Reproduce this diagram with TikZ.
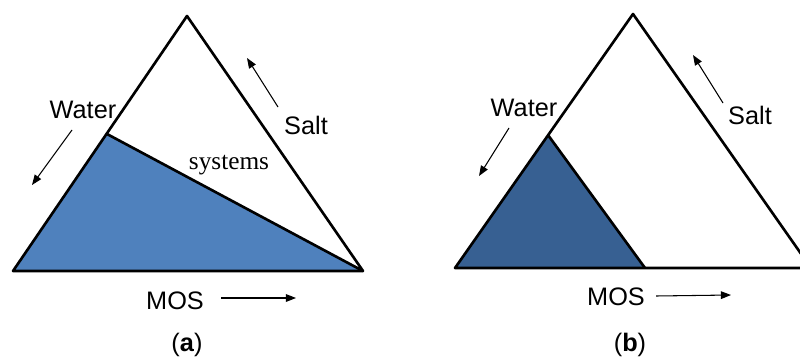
\documentclass[tikz,border=0pt]{standalone}
\usepackage{fontspec}
\setmainfont{Liberation Sans}
\newfontfamily\serifface{Liberation Serif}
\usetikzlibrary{arrows.meta}
\definecolor{phaseA}{HTML}{4F81BD}
\definecolor{phaseB}{HTML}{376092}
\tikzset{lbl/.style={inner sep=0pt,font=\fontsize{14.4}{17}\selectfont},
  dirarrow/.style={-{Triangle[length=5.8pt,width=4.4pt]},line width=0.6pt}}

\begin{document}
\begin{tikzpicture}[x=0.02cm,y=-0.02cm,line join=round]
\clip (0,0) rectangle (800,358);
% --- (a) wide region: water corner to MOS corner
\begin{scope}
\coordinate (aL) at (13,271); \coordinate (aT) at (187,16); \coordinate (aR) at (363,271);
\coordinate (aW) at (107,134);
\fill[phaseA] (aL) -- (aW) -- (aR) -- cycle;
\draw[line width=1.5pt] (aL) -- (aT) -- (aR) -- cycle;
\draw[line width=1.5pt] (aW) -- (aR);
\node[lbl] (waterA) at (83,110) {Water};
\node[lbl] (saltA) at (306,125) {Salt};
\node[lbl] (mosA) at (175,301) {MOS};
\node[inner sep=0pt,font=\serifface\fontsize{14.4}{17}\selectfont] (sysA) at (229,165) {systems};
\coordinate (wa1) at (72,130); \coordinate (wa2) at (32,185);
\coordinate (sa1) at (278,107); \coordinate (sa2) at (247,58);
\coordinate (ma1) at (221,298); \coordinate (ma2) at (296,298);
\draw[dirarrow] (wa1) -- (wa2); \draw[dirarrow] (sa1) -- (sa2); \draw[dirarrow] (ma1) -- (ma2);
\node[lbl] (capA) at (187,345) {(\textbf{a})};
\end{scope}
% --- (b) small region at the water corner
\begin{scope}
\coordinate (bL) at (455,268); \coordinate (bT) at (633,14); \coordinate (bR) at (811,268);
\coordinate (bW) at (548,135); \coordinate (bM) at (645,268);
\fill[phaseB] (bL) -- (bW) -- (bM) -- cycle;
\draw[line width=1.5pt] (bL) -- (bT) -- (bR) -- cycle;
\draw[line width=1.5pt] (bW) -- (bM);
\node[lbl] (waterB) at (524,108) {Water};
\node[lbl] (saltB) at (750,115) {Salt};
\node[lbl] (mosB) at (616,297) {MOS};
\coordinate (wb1) at (509,128); \coordinate (wb2) at (479,176);
\coordinate (sb1) at (723,103); \coordinate (sb2) at (693,55);
\coordinate (mb1) at (656,296); \coordinate (mb2) at (731,295);
\draw[dirarrow] (wb1) -- (wb2); \draw[dirarrow] (sb1) -- (sb2); \draw[dirarrow] (mb1) -- (mb2);
\node[lbl] (capB) at (630,345) {(\textbf{b})};
\end{scope}
\end{tikzpicture}
\end{document}
